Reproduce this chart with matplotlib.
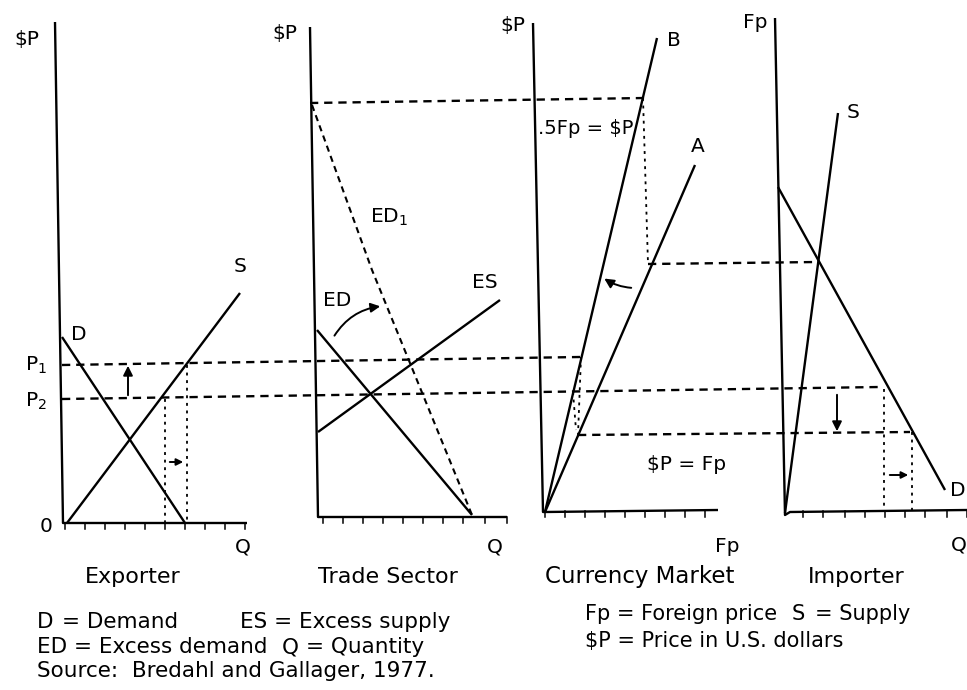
import matplotlib.pyplot as plt
from matplotlib.patches import FancyArrowPatch

plt.rcParams['font.family'] = ['DejaVu Sans']

# --- Exporter panel (positions, y grows downwards) ---
exp_axis_x = [55, 63, 247]
exp_axis_y = [22, 523, 523]
exp_ticks = [65, 85, 105, 125, 145, 165, 185, 205, 225, 245]
exp_demand_x = [62, 185]
exp_demand_y = [337, 523]
exp_supply_x = [67, 240]
exp_supply_y = [523, 293]
exp_q1_x = [165, 165]
exp_q1_y = [399, 523]
exp_q2_x = [187, 187]
exp_q2_y = [365, 523]

# price levels running across the panels
p1_x = [62, 580]
p1_y = [365, 357]
p2_x = [62, 880]
p2_y = [399, 387]
top_x = [310, 645]
top_y = [103, 98]
mid_x = [648, 818]
mid_y = [264, 262]
low_x = [578, 910]
low_y = [435, 432]

# --- Trade sector panel ---
trd_axis_x = [310, 318, 507]
trd_axis_y = [27, 517, 517]
trd_ticks = [323, 343, 363, 383, 403, 423, 443, 463, 485, 507]
trd_ed1_x = [312, 372, 472]
trd_ed1_y = [105, 270, 515]
trd_ed_x = [317, 472]
trd_ed_y = [330, 515]
trd_es_x = [318, 500]
trd_es_y = [432, 300]

# --- Currency market panel ---
cur_axis_x = [533, 543, 545, 718]
cur_axis_y = [23, 512, 512, 510]
cur_ticks = [545, 565, 585, 605, 625, 645, 665, 685, 705]
cur_b_x = [545, 657]
cur_b_y = [512, 38]
cur_a_x = [545, 695]
cur_a_y = [512, 165]
cur_v1_x = [643, 648]
cur_v1_y = [98, 264]
cur_v2_x = [581, 578]
cur_v2_y = [357, 435]
cur_v3_x = [573, 576]
cur_v3_y = [392, 430]

# --- Importer panel ---
imp_axis_x = [775, 785, 790, 967]
imp_axis_y = [18, 515, 512, 510]
imp_ticks = [803, 823, 845, 865, 885, 905, 925, 947, 967]
imp_supply_x = [785, 838]
imp_supply_y = [513, 113]
imp_demand_x = [778, 945]
imp_demand_y = [187, 490]
imp_q1_x = [884, 884]
imp_q1_y = [389, 510]
imp_q2_x = [912, 912]
imp_q2_y = [432, 510]

fig = plt.figure(figsize=(9.67, 6.9), dpi=100)
ax = fig.add_axes([0, 0, 1, 1])
ax.set_xlim(0, 967)
ax.set_ylim(690, 0)
ax.axis('off')

K = 'black'
dash = (3.5, 2.5)
dot = (1.6, 2.6)


def solid(xs, ys, lw=1.7):
    ax.plot(xs, ys, color=K, lw=lw, solid_capstyle='butt')


def dashed(xs, ys, lw=1.7, pattern=dash):
    ax.plot(xs, ys, color=K, lw=lw, linestyle=(0, pattern))


def ticks(xs, y0, length=6):
    for t in xs:
        ax.plot([t, t], [y0, y0 + length], color=K, lw=1.1)


def arrow(x0, y0, x1, y1, rad=0.0, ms=14):
    ax.add_patch(FancyArrowPatch((x0, y0), (x1, y1), arrowstyle='-|>',
                                 mutation_scale=ms, color=K, lw=1.4,
                                 connectionstyle=f'arc3,rad={rad}'))


# axes of each panel
solid(exp_axis_x, exp_axis_y)
solid(trd_axis_x, trd_axis_y)
solid(cur_axis_x, cur_axis_y)
solid(imp_axis_x, imp_axis_y)
ticks(exp_ticks, 523)
ticks(trd_ticks, 517)
ticks(cur_ticks, 511)
ticks(imp_ticks, 511)

# curves
solid(exp_demand_x, exp_demand_y)
solid(exp_supply_x, exp_supply_y)
dashed(trd_ed1_x, trd_ed1_y, lw=1.5, pattern=(3, 2.2))
solid(trd_ed_x, trd_ed_y)
solid(trd_es_x, trd_es_y)
solid(cur_b_x, cur_b_y)
solid(cur_a_x, cur_a_y)
solid(imp_supply_x, imp_supply_y)
solid(imp_demand_x, imp_demand_y)

# horizontal price guides
dashed(p1_x, p1_y)
dashed(p2_x, p2_y)
dashed(top_x, top_y)
dashed(mid_x, mid_y)
dashed(low_x, low_y)

# vertical quantity guides
dashed(exp_q1_x, exp_q1_y, lw=1.3, pattern=dot)
dashed(exp_q2_x, exp_q2_y, lw=1.3, pattern=dot)
dashed(cur_v1_x, cur_v1_y, lw=1.3, pattern=dot)
dashed(cur_v2_x, cur_v2_y, lw=1.3, pattern=dot)
dashed(cur_v3_x, cur_v3_y, lw=1.3, pattern=dot)
dashed(imp_q1_x, imp_q1_y, lw=1.3, pattern=dot)
dashed(imp_q2_x, imp_q2_y, lw=1.3, pattern=dot)

# shift arrows
arrow(128, 398, 128, 363)
arrow(167, 462, 186, 462, ms=10)
arrow(333, 338, 383, 306, rad=-0.25)
arrow(634, 288, 602, 277, rad=-0.15)
arrow(837, 392, 837, 434)
arrow(887, 475, 911, 475, ms=10)

# labels inside the panels
fs = 14.5
ax.text(27, 39, '$P', fontsize=fs, ha='center', va='center')
ax.text(285, 34, '$P', fontsize=fs, ha='center', va='center')
ax.text(513, 25, '$P', fontsize=fs, ha='center', va='center')
ax.text(755, 22, 'Fp', fontsize=fs, ha='center', va='center')
ax.text(46, 527, '0', fontsize=fs, ha='center', va='center')
ax.text(25, 365, r'P$_1$', fontsize=fs, ha='left', va='center')
ax.text(25, 401, r'P$_2$', fontsize=fs, ha='left', va='center')
ax.text(79, 335, 'D', fontsize=fs, ha='center', va='center')
ax.text(240, 267, 'S', fontsize=fs, ha='center', va='center')
ax.text(370, 217, r'ED$_1$', fontsize=fs, ha='left', va='center')
ax.text(337, 301, 'ED', fontsize=fs, ha='center', va='center')
ax.text(485, 282, 'ES', fontsize=fs, ha='center', va='center')
ax.text(674, 41, 'B', fontsize=fs, ha='center', va='center')
ax.text(698, 147, 'A', fontsize=fs, ha='center', va='center')
ax.text(586, 128, '.5Fp = $P', fontsize=14, ha='center', va='center')
ax.text(687, 464, '$P = Fp', fontsize=14.5, ha='center', va='center')
ax.text(853, 112, 'S', fontsize=fs, ha='center', va='center')
ax.text(958, 491, 'D', fontsize=fs, ha='center', va='center')
ax.text(243, 547, 'Q', fontsize=fs, ha='center', va='center')
ax.text(495, 547, 'Q', fontsize=fs, ha='center', va='center')
ax.text(727, 546, 'Fp', fontsize=fs, ha='center', va='center')
ax.text(951, 545, 'Q', fontsize=fs, ha='left', va='center')

# panel titles
titles = ['Exporter', 'Trade Sector', 'Currency Market', 'Importer']
title_x = [133, 388, 640, 856]
for t, x in zip(titles, title_x):
    ax.text(x, 577, t, fontsize=16.5 if t == 'Currency Market' else 16,
            ha='center', va='center')

# key
ks = 15.5
ax.text(37, 622, 'D', fontsize=ks, va='center')
ax.text(62, 622, '= Demand', fontsize=ks, va='center')
ax.text(240, 622, 'ES = Excess supply', fontsize=ks, va='center')
ax.text(37, 647, 'ED = Excess demand', fontsize=ks, va='center')
ax.text(282, 647, 'Q', fontsize=ks, va='center')
ax.text(306, 647, '= Quantity', fontsize=ks, va='center')
ax.text(37, 671, 'Source:  Bredahl and Gallager, 1977.', fontsize=ks, va='center')
ks2 = 15
ax.text(585, 614, 'Fp = Foreign price', fontsize=ks2, va='center')
ax.text(792, 614, 'S', fontsize=ks2, va='center')
ax.text(815, 614, '= Supply', fontsize=ks2, va='center')
ax.text(585, 641, '$P = Price in U.S. dollars', fontsize=ks2, va='center')

fig.savefig('out.png', dpi=100, facecolor='white')
